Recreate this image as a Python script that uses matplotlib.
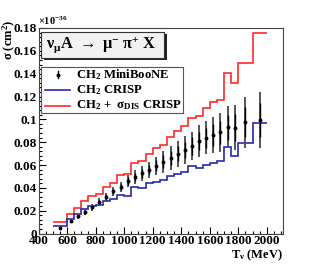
import numpy as np
import matplotlib
matplotlib.use("Agg")
import matplotlib.pyplot as plt
from matplotlib.patches import Rectangle
from matplotlib.lines import Line2D
from matplotlib.ticker import MultipleLocator

plt.rcParams['font.family'] = ['Liberation Serif', 'DejaVu Serif']
plt.rcParams['font.weight'] = 'bold'
plt.rcParams['mathtext.fontset'] = 'custom'
plt.rcParams['mathtext.rm'] = 'Liberation Serif:bold'
plt.rcParams['mathtext.bf'] = 'Liberation Serif:bold'
plt.rcParams['mathtext.it'] = 'Liberation Serif:bold'

# bin edges (MeV)
edges = [500, 600, 650, 700, 750, 800, 850, 900, 950, 1000, 1050, 1100, 1150,
         1200, 1250, 1300, 1350, 1400, 1450, 1500, 1550, 1600, 1650, 1700,
         1750, 1800, 1900, 2000]

# CH2 CRISP (blue), units 1e-36 cm^2
crisp = [0.0068, 0.0130, 0.0168, 0.0213, 0.0240, 0.0247, 0.0284, 0.0305, 0.0340,
         0.0332, 0.0410, 0.0400, 0.0440, 0.0455, 0.0468, 0.0500, 0.0520, 0.0540,
         0.0590, 0.0570, 0.0600, 0.0620, 0.0635, 0.0755, 0.0678, 0.0790, 0.0970]

# CH2 + sigma_DIS CRISP (red)
crisp_dis = [0.0102, 0.0175, 0.0225, 0.0285, 0.0325, 0.0345, 0.0405, 0.0445, 0.0510,
             0.0520, 0.0615, 0.0635, 0.0695, 0.0745, 0.0775, 0.0845, 0.0895, 0.0940,
             0.1015, 0.1025, 0.1095, 0.1150, 0.1170, 0.1405, 0.1315, 0.1495, 0.1755]

# MiniBooNE data
mb_e = [550, 625, 675, 725, 775, 825, 875, 925, 975, 1025, 1075, 1125, 1175, 1225,
        1275, 1325, 1375, 1425, 1475, 1525, 1575, 1625, 1675, 1725, 1775, 1850, 1950]
mb_sig = [0.0051, 0.0110, 0.0149, 0.0187, 0.0228, 0.0277, 0.0318, 0.0368, 0.0410,
          0.0460, 0.0495, 0.0526, 0.0560, 0.0592, 0.0628, 0.0663, 0.0700, 0.0730,
          0.0766, 0.0810, 0.0839, 0.0862, 0.0886, 0.0930, 0.0927, 0.0973, 0.0994]
mb_err = [0.0013, 0.0018, 0.0022, 0.0026, 0.0028, 0.0030, 0.0034, 0.0040, 0.0045,
          0.0055, 0.0058, 0.0064, 0.0070, 0.0080, 0.0095, 0.0105, 0.0114, 0.0120,
          0.0125, 0.0138, 0.0145, 0.0155, 0.0170, 0.0185, 0.0195, 0.0220, 0.0245]

W, H = 315, 276
fig = plt.figure(figsize=(W / 100, H / 100), dpi=100)
ax = fig.add_axes([38.5 / W, 1 - 233.5 / H, (283.3 - 38.5) / W, (233.5 - 28) / H])

ax.stairs(crisp_dis, edges, baseline=None, color='#ff2a2a', lw=1.2)
ax.stairs(crisp, edges, baseline=None, color='#2828b0', lw=1.2)

err = np.array(mb_err)
ax.errorbar(mb_e, mb_sig, yerr=err, fmt='none', ecolor='#555555', elinewidth=1.4, capsize=0)
ax.errorbar(mb_e, mb_sig, yerr=0.6 * err, fmt='o', color='black', ms=1.8,
            elinewidth=1.0, capsize=0)

ax.set_xlim(400, 2115)
ax.set_ylim(0, 0.18)
ax.xaxis.set_major_locator(MultipleLocator(200))
ax.xaxis.set_minor_locator(MultipleLocator(50))
ax.yaxis.set_major_locator(MultipleLocator(0.02))
ax.yaxis.set_minor_locator(MultipleLocator(0.004))
ax.tick_params(which='both', direction='in', top=False, right=False,
               labelsize=9.5, pad=1.0)
ax.tick_params(which='major', length=5, width=0.8)
ax.tick_params(which='minor', length=2.5, width=0.8)
ax.yaxis.set_major_formatter(plt.FuncFormatter(lambda v, p: '0' if v == 0 else ('%g' % round(v, 3))))
for s in ax.spines.values():
    s.set_color('#444444')
    s.set_linewidth(0.8)

# axis titles
fig.text(283 / W, 1 - 263 / H, r'T$_{\nu}$ (MeV)', ha='right', va='bottom', fontsize=9)
fig.text(9 / W, 1 - 20 / H, r'σ (cm$^{2}$)', rotation=90, ha='center', va='top', fontsize=9)
fig.text(38 / W, 1 - 27 / H, r'×10$^{-36}$', ha='left', va='bottom', fontsize=7.5)

# process label box with shadow
fig.add_artist(Rectangle((43.5 / W, 1 - 60 / H), (164 - 40.7) / W, (57.5 - 31.7) / H,
                         transform=fig.transFigure, facecolor='#222222', edgecolor='none'))
fig.add_artist(Rectangle((40.7 / W, 1 - 57.5 / H), (164 - 40.7) / W, (57.5 - 31.7) / H,
                         transform=fig.transFigure, facecolor='#f2f2f2', edgecolor='#333333', lw=0.8))
fig.text(101 / W, 1 - 45 / H, r'ν$_{\mathrm{μ}}$A $\rightarrow$ μ$^{-}$ π$^{+}$ X',
         ha='center', va='center', fontsize=11.8)

# legend box
fig.add_artist(Rectangle((40.7 / W, 1 - 113.3 / H), (183.3 - 40.7) / W, (113.3 - 66.7) / H,
                         transform=fig.transFigure, facecolor='white', edgecolor='#555555', lw=0.8))
rows = [1 - 74.5 / H, 1 - 90 / H, 1 - 105.5 / H]
fig.add_artist(Line2D([58 / W, 58 / W], [rows[0] - 4 / H, rows[0] + 4 / H], color='black', lw=1.0,
                      transform=fig.transFigure))
fig.add_artist(Line2D([58 / W], [rows[0]], marker='o', ms=1.8, color='black',
                      transform=fig.transFigure))
fig.add_artist(Line2D([45 / W, 70 / W], [rows[1], rows[1]], color='#2828b0', lw=1.2,
                      transform=fig.transFigure))
fig.add_artist(Line2D([45 / W, 70 / W], [rows[2], rows[2]], color='#ff2a2a', lw=1.2,
                      transform=fig.transFigure))
labels = [r'CH$_{2}$ MiniBooNE', r'CH$_{2}$ CRISP', r'CH$_{2}$ +  σ$_{\mathrm{DIS}}$ CRISP']
for yy, lab in zip(rows, labels):
    fig.text(76 / W, yy, lab, ha='left', va='center', fontsize=9.2)

fig.savefig('out.png', dpi=100)
